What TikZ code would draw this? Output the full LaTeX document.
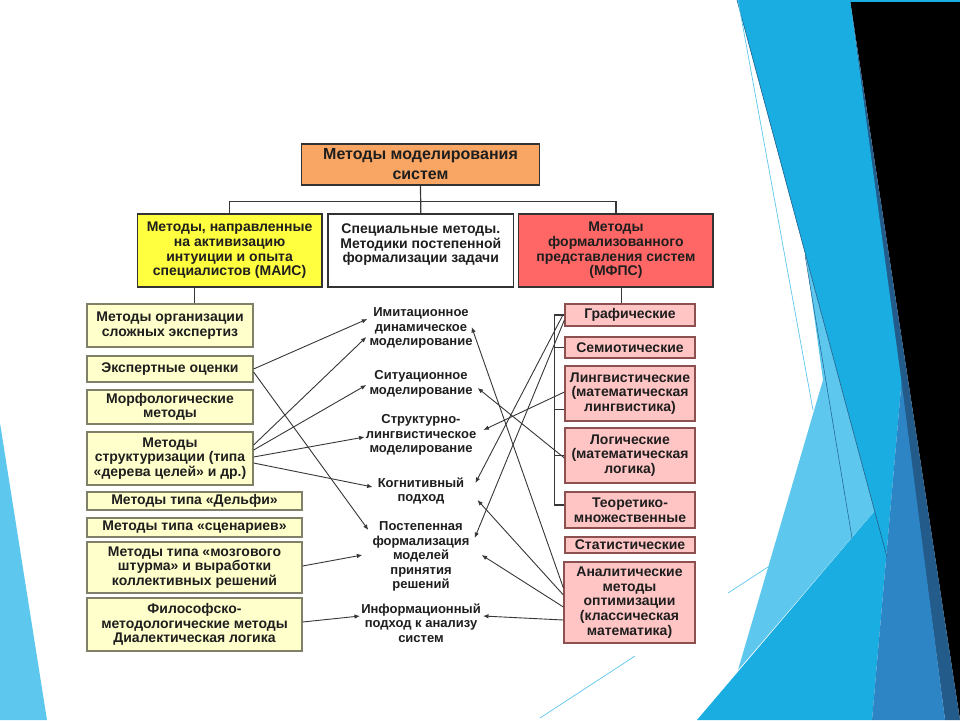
\documentclass[tikz,border=0pt]{standalone}
\usepackage{fontspec}
\setmainfont{Liberation Sans}
\usetikzlibrary{arrows.meta,calc}
\definecolor{bgBright}{RGB}{26,173,226}
\definecolor{bgLight}{RGB}{94,199,237}
\definecolor{bgMed}{RGB}{46,133,198}
\definecolor{bgDark}{RGB}{35,92,138}
\definecolor{bgEdge}{RGB}{30,95,140}
\definecolor{topFill}{RGB}{249,166,100}
\definecolor{maisFill}{RGB}{255,255,64}
\definecolor{mfpsFill}{RGB}{255,102,102}
\definecolor{yFill}{RGB}{255,255,204}
\definecolor{yEdge}{RGB}{128,128,104}
\definecolor{pFill}{RGB}{255,196,196}
\definecolor{pEdge}{RGB}{140,80,80}
\definecolor{lineC}{RGB}{55,55,55}
\definecolor{txtC}{RGB}{30,30,30}
\begin{document}
\begin{tikzpicture}[x=1pt,y=-1pt,
  boxbase/.style={inner sep=0pt, align=center, text=txtC, line width=1.2pt},
  f14/.style={font=\fontsize{14}{14.6}\selectfont\bfseries},
  headbox/.style={boxbase, f14, draw=black!80, line width=1.4pt, minimum height=73pt},
  ybox/.style={boxbase, f14, fill=yFill, draw=yEdge},
  pbox/.style={boxbase, f14, fill=pFill, draw=pEdge, minimum width=130pt},
  midtext/.style={inner sep=2pt, align=center, text=txtC, font=\fontsize{13}{14.5}\selectfont\bfseries},
  conn/.style={draw=lineC, line width=0.9pt, -{Latex[length=5.5pt,width=4.5pt]}},
  tree/.style={draw=lineC, line width=1.2pt},
  bgline/.style={line width=0.7pt}
]
\useasboundingbox (0,0) rectangle (960,720);
% ---------- background ----------
\fill[white] (0,0) rectangle (960,720);
\fill[bgLight] (0,423) -- (47,720) -- (0,720) -- cycle;
\fill[black] (850,0) -- (960,0) -- (960,720) -- cycle;
\fill[bgBright] (850,0) rectangle (960,1.8);
\fill[bgDark] (850,0) -- (960,720) -- (945,720) -- cycle;
\fill[bgBright] (737,0) -- (850,0) -- (901.5,382) -- (872,720) -- (697,720) -- (874.6,511) -- cycle;
\fill[bgMed] (901.5,382) -- (945,720) -- (872,720) -- cycle;
\fill[bgLight] (805.7,255) -- (874.6,511) -- (738,670) -- (823,380) -- cycle;
\draw[bgEdge, line width=0.6pt] (737,0) -- (887,557);
\draw[bgEdge, line width=0.5pt] (805,255) -- (852,538);
\draw[bgLight, bgline] (738,0) -- (813,410);
\draw[bgLight, bgline] (728,593) -- (768,567);
\draw[bgLight, bgline] (540,718) -- (635,656);
% ---------- head ----------
\node[headbox, fill=topFill, minimum width=238pt, minimum height=41pt,
      font=\fontsize{16}{20}\selectfont\bfseries] (top) at (420.5,164.5) {Методы моделирования\\систем};
\node[headbox, fill=maisFill, minimum width=184.6pt] (mais) at (229.6,250.5)
  {Методы, направленные\\на активизацию\\интуиции и опыта\\специалистов (МАИС)};
\node[headbox, fill=white, minimum width=185.6pt] (spec) at (420.8,250.5)
  {Специальные методы.\\Методики постепенной\\формализации задачи\\\mbox{}};
\node[headbox, fill=mfpsFill, minimum width=194.3pt] (mfps) at (615.9,250.5)
  {Методы\\формализованного\\представления систем\\(МФПС)};
% ---------- left column ----------
\node[ybox, minimum width=166pt, minimum height=43pt] (b1) at (170,325.5) {Методы организации\\сложных экспертиз};
\node[ybox, minimum width=166pt, minimum height=26pt] (b2) at (170,369) {Экспертные оценки};
\node[ybox, minimum width=166pt, minimum height=34pt] (b3) at (170,407) {Морфологические\\методы};
\node[ybox, minimum width=166pt, minimum height=53pt] (b4) at (170,458.5) {Методы\\структуризации (типа\\«дерева целей» и др.)};
\node[ybox, minimum width=215pt, minimum height=18pt] (b5) at (194.5,501) {Методы типа «Дельфи»};
\node[ybox, minimum width=215pt, minimum height=19pt] (b6) at (194.5,527.5) {Методы типа «сценариев»};
\node[ybox, minimum width=215pt, minimum height=51pt] (b7) at (194.5,567.5) {Методы типа «мозгового\\штурма» и выработки\\коллективных решений};
\node[ybox, minimum width=215pt, minimum height=53pt] (b8) at (194.5,624.5) {Философско-\\методологические методы\\Диалектическая логика};
% ---------- middle ----------
\node[midtext] (imit) at (421,328) {Имитационное\\динамическое\\моделирование};
\node[midtext] (situ) at (421,384) {Ситуационное\\моделирование};
\node[midtext] (struct) at (421,435) {Структурно-\\лингвистическое\\моделирование};
\node[midtext] (kogn) at (421,491) {Когнитивный\\подход};
\node[midtext] (postep) at (421,556.5) {Постепенная\\формализация\\моделей\\принятия\\решений};
\node[midtext] (inform) at (421,623) {Информационный\\подход к анализу\\систем};
% ---------- right column ----------
\node[pbox, minimum height=22pt] (graf) at (630,315) {Графические};
\node[pbox, minimum height=21pt] (sem) at (630,347.5) {Семиотические};
\node[pbox, minimum height=55pt] (lingv) at (630,393.5) {Лингвистические\\(математическая\\лингвистика)};
\node[pbox, minimum height=55pt] (logic) at (630,455.5) {Логические\\(математическая\\логика)};
\node[pbox, minimum height=36pt] (teor) at (630,510) {Теоретико-\\множественные};
\node[pbox, minimum height=16pt] (stat) at (630,545) {Статистические};
\node[pbox, minimum width=131pt, minimum height=81pt] (anal) at (629.5,602.5) {Аналитические\\методы\\оптимизации\\(классическая\\математика)};
% ---------- tree lines ----------
\coordinate (hl) at (420.5,201.7);
\draw[tree] (top.south) -- (spec.north);
\draw[tree] (mais.north) |- (hl) -| (mfps.north);
\draw[tree] (b5.north |- mais.south) -- (b5.north |- b1.north);
\coordinate (md) at ($(mfps.south)+(5.8,0)$);
\draw[tree] (md) -- (md |- graf.north);
\coordinate (bt) at ($(graf.west)+(-10,0)$);
\coordinate (bb) at ($(teor.west)+(-10,-5)$);
\draw[tree] (bt) -- (bb);
\draw[tree] (graf.west) -- (bt);
\draw[tree] (sem.west) -- (sem.west -| bt);
\draw[tree] ($(lingv.west)+(0,16)$) -- ($(lingv.west)+(-10,16)$);
\draw[tree] (logic.west) -- (logic.west -| bt);
\draw[tree] ($(teor.west)+(0,-5)$) -- (bb);
% ---------- connectors: left ----------
\draw[conn] (b2.east) -- ($(imit.west)+(0,-9)$);
\draw[conn] ($(b2.east)+(0,3)$) -- ($(postep.west)+(-2,-26.5)$);
\draw[conn] ($(b4.east)+(0,-13.5)$) -- ($(imit.west)+(-1,9)$);
\draw[conn] ($(b4.east)+(0,-8.5)$) -- ($(situ.west)+(-1,1)$);
\draw[conn] ($(b4.east)+(0,-1.5)$) -- ($(struct.west)+(1,2)$);
\draw[conn] ($(b4.east)+(0,4.5)$) -- ($(kogn.west)+(-3,-4)$);
\draw[conn] ($(b7.east)+(0,-1.5)$) -- ($(postep.west)+(-8,-1.5)$);
\draw[conn] ($(b8.east)+(0,-2.5)$) -- ($(inform.west)+(1,-7)$);
% ---------- connectors: right ----------
\draw[conn] ($(anal.west)+(0,-14.5)$) -- ($(imit.east)+(-3,-1)$);
\draw[conn] ($(logic.west)+(0,2.5)$) -- ($(situ.east)+(3,4)$);
\draw[conn] ($(lingv.west)+(0,-1.5)$) -- ($(struct.east)+(5,-5)$);
\draw[conn] ($(graf.west)+(-1,-1)$) -- ($(kogn.east)+(9,-8)$);
\draw[conn] ($(graf.west)+(0,5)$) -- ($(postep.east)+(3,-18.5)$);
\draw[conn] ($(anal.west)+(0,-7.5)$) -- ($(kogn.east)+(11,9)$);
\draw[conn] ($(anal.west)+(0,4.5)$) -- ($(postep.east)+(10,-1.5)$);
\draw[conn] ($(anal.west)+(0,17.5)$) -- ($(inform.east)+(0,-7)$);
\end{tikzpicture}
\end{document}
